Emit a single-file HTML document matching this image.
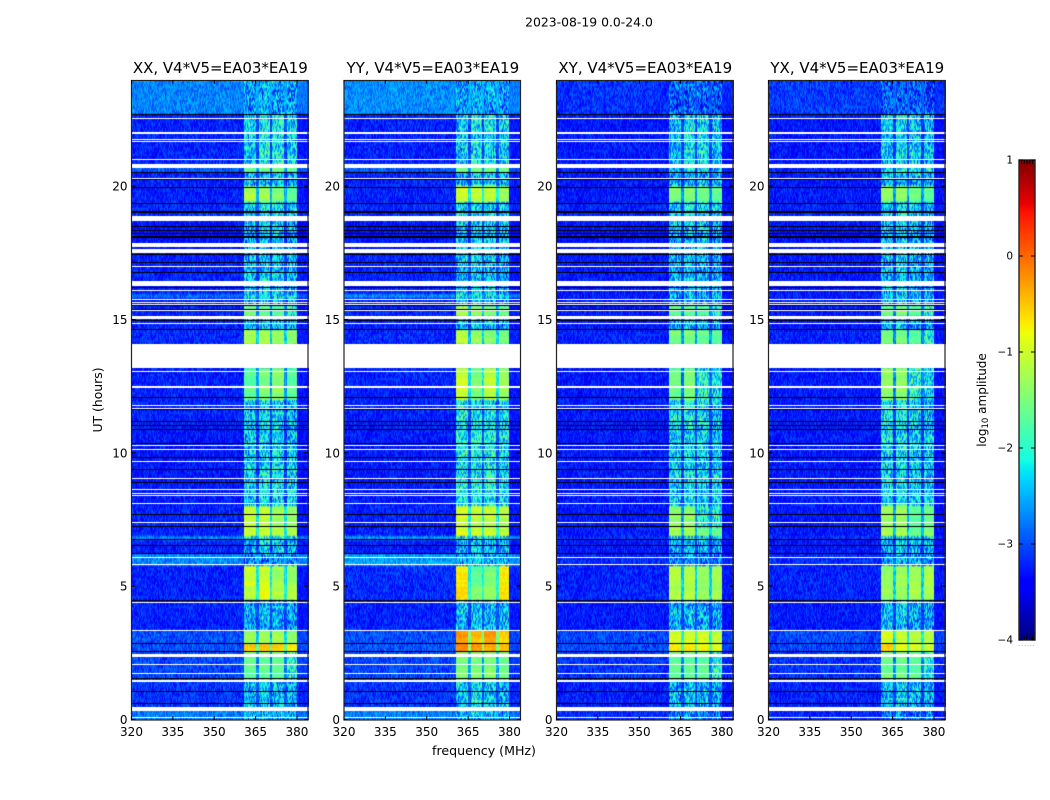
<!DOCTYPE html>
<html>
<head>
<meta charset="utf-8">
<title>2023-08-19 0.0-24.0</title>
<style>
html,body{margin:0;padding:0;background:#fff;}
#stage{position:relative;width:1050px;height:800px;overflow:hidden;background:#fff;font-family:"DejaVu Sans","Liberation Sans",sans-serif;}
canvas{position:absolute;display:block;}
svg{position:absolute;left:0;top:0;}
text{font-family:"DejaVu Sans","Liberation Sans",sans-serif;fill:#000;}
</style>
</head>
<body>
<div id="stage">
<svg id="overlay" width="1050" height="800">
  <text x="589" y="26.5" text-anchor="middle" font-size="12.4">2023-08-19 0.0-24.0</text>
  <text x="484" y="755" text-anchor="middle" font-size="12.6">frequency (MHz)</text>
  <text transform="translate(102,400) rotate(-90)" text-anchor="middle" font-size="12.4">UT (hours)</text>
  <text transform="translate(986,400) rotate(-90)" text-anchor="middle" font-size="12">log<tspan font-size="8.5" dy="2">10</tspan><tspan dy="-2"> amplitude</tspan></text>
</svg>
</div>
<script>
// ---- axis domains and tick labels ----
const freqTicks = [320, 335, 350, 365, 380];
const utTicks = [0, 5, 10, 15, 20];
const cbarTicks = [1, 0, -1, -2, -3, -4];
const panelTitles = ['XX, V4*V5=EA03*EA19', 'YY, V4*V5=EA03*EA19', 'XY, V4*V5=EA03*EA19', 'YX, V4*V5=EA03*EA19'];

// ---- UT (hours) segment boundaries, top to bottom ----
const segmentEdges = [24,22.72,20.85,20.55,20,19.4,18.7,17.45,15.95,15.85,15.5,15.15,14.6,14.1,13.2,12,10.9,8.05,7.2,6.9,6.78,6.2,5.74,5.05,4.47,3.35,2.88,2.55,1.5,0.34,0];

// ---- RFI frequency bands (MHz) ----
const bandEdges = [[360.4,364.8],[365.8,369.8],[370.7,374.8],[376,379.7]];

// ---- log10 amplitude per segment: XX ----
const xxBackground = [-2.75,-3.25,-2.95,-3.25,-3.25,-3.2,-3.35,-3.25,-2.9,-3.25,-3.25,-3.25,-3.2,-3.25,-3.25,-3.25,-3.3,-3.25,-3.25,-2.75,-3.25,-2.7,-3.25,-3.25,-3.25,-3.0,-3.0,-3.05,-3.15,-2.8];
const xxBand1 = [-2.4,-2.1,-1.6,-2.2,-1.2,-2.1,-2.3,-2.2,-2.0,-2.2,-1.5,-2.3,-1.2,-2,-1.7,-2.1,-2.1,-1.1,-1.0,-1.9,-2.3,-2.4,-1.0,-1.15,-2.3,-1.35,-0.55,-1.7,-2.2,-2.3];
const xxBand2 = [-2.3,-1.9,-1.5,-2.1,-1.3,-1.9,-2.1,-2.1,-2,-2.1,-1.6,-2.1,-1.2,-2,-1.5,-2.0,-2.0,-1.1,-1.0,-1.9,-2.1,-2.3,-1.0,-0.85,-2.2,-1.3,-0.5,-1.7,-2.1,-2.2];
const xxBand3 = [-2.4,-1.9,-1.5,-2.1,-1.5,-2.0,-2.1,-2.2,-2,-2.2,-1.7,-2.2,-1.3,-2,-1.4,-2.1,-2.0,-1.35,-1.1,-2,-2.2,-2.4,-1.3,-1.2,-2.3,-1.25,-0.6,-1.7,-2.2,-2.3];
const xxBand4 = [-2.4,-2.1,-1.6,-2.3,-1.7,-2.1,-2.3,-2.3,-2.1,-2.3,-1.8,-2.3,-1.4,-2,-1.7,-2.2,-2.1,-1.4,-1.15,-2,-2.3,-2.4,-1.35,-1.15,-2.3,-1.4,-0.75,-1.8,-2.3,-2.4];

// ---- YY ----
const yyBackground = [-2.7,-3.25,-2.95,-3.25,-3.25,-3.2,-3.35,-3.25,-2.75,-3.25,-3.25,-3.25,-3.2,-3.25,-3.25,-3.25,-3.3,-3.25,-3.25,-2.65,-3.25,-2.6,-3.2,-3.2,-3.25,-3.0,-3.0,-3.05,-3.15,-2.75];
const yyBand1 = [-2.4,-2.1,-1.6,-2.2,-1.0,-2.0,-2.2,-2.2,-2,-2.2,-1.2,-2.2,-1.1,-2,-1.0,-1.9,-1.9,-1.0,-0.9,-1.9,-2.2,-2.3,-0.7,-0.55,-2.2,-0.3,-0.2,-1.5,-2.1,-2.2];
const yyBand2 = [-2.3,-1.9,-1.6,-2.1,-1.1,-1.9,-2.1,-2.1,-2,-2.1,-1.4,-2.1,-1.3,-2,-1.5,-1.9,-1.9,-1.1,-1.0,-1.9,-2.1,-2.2,-1.7,-1.4,-2.1,-0.5,-0.3,-1.5,-2.0,-2.1];
const yyBand3 = [-2.4,-2.0,-1.6,-2.1,-1.1,-2.0,-2.1,-2.2,-2,-2.2,-1.5,-2.2,-1.4,-2,-1.1,-1.9,-1.9,-1.1,-1.0,-1.9,-2.2,-2.3,-1.5,-1.3,-2.2,-0.3,-0.4,-1.5,-2.1,-2.2];
const yyBand4 = [-2.4,-2.1,-1.6,-2.2,-1.3,-2.0,-2.2,-2.3,-2.1,-2.3,-1.6,-2.3,-1.5,-2,-1.3,-2.0,-2.0,-1.2,-1.1,-2,-2.2,-2.3,-0.7,-0.6,-2.2,-0.6,-0.5,-1.6,-2.2,-2.3];

// ---- XY ----
const xyBackground = [-3.15,-3.3,-3.25,-3.3,-3.3,-3.25,-3.35,-3.3,-3.25,-3.3,-3.3,-3.3,-3.25,-3.3,-3.3,-3.3,-3.3,-3.3,-3.3,-3.2,-3.3,-3.2,-3.25,-3.25,-3.3,-3.05,-3.05,-3.15,-3.25,-3.2];
const xyBand1 = [-2.7,-2.2,-2.0,-2.3,-1.5,-2.1,-2.3,-2.3,-2.2,-2.3,-1.6,-2.3,-1.5,-2,-1.6,-2.0,-2.1,-1.4,-1.2,-2,-2.3,-2.4,-1.2,-1.2,-2.3,-1.0,-0.7,-1.7,-2.2,-2.5];
const xyBand2 = [-2.7,-2.0,-1.9,-2.2,-1.5,-2.0,-2.2,-2.2,-2.1,-2.2,-1.6,-2.2,-1.5,-2,-1.5,-1.9,-2.0,-1.4,-1.2,-2,-2.2,-2.3,-1.2,-1.2,-2.2,-1.0,-0.7,-1.7,-2.1,-2.4];
const xyBand3 = [-2.7,-2.0,-1.9,-2.2,-1.6,-2.1,-2.2,-2.3,-2.2,-2.3,-1.7,-2.3,-1.6,-2,-1.8,-2.0,-2.1,-1.8,-1.5,-2.1,-2.3,-2.4,-1.4,-1.4,-2.3,-1.0,-0.8,-1.7,-2.2,-2.5];
const xyBand4 = [-2.8,-2.2,-2.1,-2.3,-1.7,-2.2,-2.3,-2.3,-2.2,-2.3,-1.8,-2.4,-1.7,-2,-2.0,-2.2,-2.1,-1.8,-1.6,-2.1,-2.3,-2.5,-1.3,-1.3,-2.3,-1.1,-0.9,-1.8,-2.3,-2.5];

// ---- YX ----
const yxBackground = [-3.1,-3.3,-3.25,-3.3,-3.3,-3.25,-3.35,-3.3,-3.25,-3.3,-3.3,-3.3,-3.25,-3.3,-3.3,-3.3,-3.3,-3.3,-3.3,-3.2,-3.3,-3.2,-3.25,-3.25,-3.3,-3.05,-3.05,-3.15,-3.25,-3.2];
const yxBand1 = [-2.7,-2.1,-2.0,-2.2,-1.4,-2.1,-2.2,-2.2,-2.2,-2.2,-1.6,-2.2,-1.5,-2,-1.4,-1.9,-2.0,-1.3,-1.2,-2,-2.2,-2.4,-1.4,-1.3,-2.2,-1.0,-0.5,-1.6,-2.2,-2.5];
const yxBand2 = [-2.7,-2.0,-1.9,-2.2,-1.4,-2.0,-2.1,-2.1,-2.1,-2.1,-1.5,-2.1,-1.5,-2,-1.4,-1.9,-2.0,-1.3,-1.2,-2,-2.1,-2.3,-1.3,-1.3,-2.1,-1.1,-0.8,-1.6,-2.1,-2.4];
const yxBand3 = [-2.7,-2.1,-2.0,-2.3,-1.6,-2.1,-2.3,-2.3,-2.2,-2.3,-1.7,-2.3,-1.7,-2,-1.8,-2.1,-2.1,-1.7,-1.6,-2.1,-2.3,-2.4,-1.3,-1.2,-2.3,-1.2,-0.9,-1.7,-2.2,-2.5];
const yxBand4 = [-2.8,-2.2,-2.1,-2.3,-1.7,-2.2,-2.3,-2.3,-2.2,-2.3,-1.8,-2.4,-1.8,-2,-2.0,-2.2,-2.1,-1.6,-1.4,-2.1,-2.3,-2.5,-1.2,-1.2,-2.3,-1.2,-1.0,-1.8,-2.3,-2.5];

// ---- flagged UT ranges (hours): white = no data, black = zeroed ----
const whiteFlags = [[22.54,22.58],[21.97,22.05],[21.75,21.79],[21.68,21.71],[21.0,21.04],[20.68,20.85],[20.29,20.33],[18.7,18.9],[17.75,17.9],[17.5,17.65],[16.99,17.03],[16.25,16.46],[16.1,16.14],[15.75,15.79],[15.65,15.69],[15.56,15.6],[15.34,15.38],[15.03,15.15],[14.85,14.89],[13.2,14.1],[13.05,13.09],[12.5,12.54],[12.46,12.49],[11.77,11.8],[11.67,11.7],[10.27,10.3],[10.15,10.18],[9.66,9.7],[9.05,9.08],[8.65,8.68],[8.48,8.5],[8.42,8.45],[8.1,8.13],[7.39,7.42],[6.08,6.11],[5.83,5.86],[4.38,4.42],[3.35,3.38],[2.36,2.48],[2.08,2.11],[1.73,1.76],[1.4,1.5],[0.35,0.49],[0.08,0.11]];
const blackFlags = [[22.7,22.74],[20.52,20.56],[20.26,20.29],[19.96,20.0],[19.36,19.4],[19.03,19.1],[18.5,18.54],[18.33,18.37],[18.24,18.28],[18.13,18.16],[18.08,18.11],[17.45,17.49],[17.12,17.16],[16.76,16.8],[16.18,16.22],[15.53,15.56],[15.4,15.43],[14.97,15.0],[14.63,14.67],[12.08,12.12],[11.63,11.67],[11.17,11.2],[11.02,11.06],[10.86,10.9],[10.36,10.4],[9.8,9.85],[9.36,9.4],[8.87,8.92],[7.7,7.74],[7.25,7.29],[6.76,6.8],[6.5,6.55],[6.2,6.25],[4.46,4.49],[2.85,2.88],[2.54,2.58],[1.53,1.57],[1.06,1.09],[0.56,0.62]];

// ---- fine-grain speckle table (fixed) ----
const speckle = [3,-7,1,9,-4,-1,6,-9,2,5,-3,8,-6,0,4,-8,7,-2,-5,9,1,-7,3,-3,6,-1,8,-9,2,-4,5,0,-6,7,-2,4,-8,1,9,-5,3,-1,6,-7,2,8,-3,-9,5,0,-4,7,1,-6,4,-2,9,-8,3,6,-5,-1,2,8,-7,5,-3,0,7,-9,4,1,-4,6,-2,9,-6,3,-8,2,5,-1,-7,8,0,-3,4,-5,7,1,-9,6,-2,3,-4,8,-6];

const panelLevels = [
  [xxBackground, xxBand1, xxBand2, xxBand3, xxBand4],
  [yyBackground, yyBand1, yyBand2, yyBand3, yyBand4],
  [xyBackground, xyBand1, xyBand2, xyBand3, xyBand4],
  [yxBackground, yxBand1, yxBand2, yxBand3, yxBand4]
];

// ---- layout ----
const panelLeft = [131.5, 344, 556.5, 768.5];
const panelW = 176.5, panelTop = 80, panelH = 640;
const freqMin = 320, freqMax = 384, utMin = 0, utMax = 24;
const nCols = 177, nRows = 320;
const cbar = {x: 1019, y: 160, w: 16, h: 480, min: -4, max: 1};

const xScale = f => (f - freqMin) / (freqMax - freqMin) * panelW;
const yScale = u => (1 - (u - utMin) / (utMax - utMin)) * panelH;
const cbarY = v => cbar.y + (cbar.max - v) / (cbar.max - cbar.min) * cbar.h;

function clamp01(v){ return Math.max(0, Math.min(1, v)); }
function jet(t){
  const r = clamp01(Math.min((t - 0.35) / 0.31, (1.0 - t) / 0.22 + 0.5 > 1 ? 1 : (1.0 - t) / 0.22 + 0.5));
  const g = clamp01(Math.min((t - 0.125) / 0.25, (0.91 - t) / 0.27));
  const b = clamp01(Math.min(0.5 + t / 0.22, (0.65 - t) / 0.31));
  return [Math.round(r * 255), Math.round(g * 255), Math.round(b * 255)];
}

function segmentIndex(ut){
  for (let i = 0; i < segmentEdges.length - 1; i++) {
    if (ut <= segmentEdges[i] && ut > segmentEdges[i + 1]) return i;
  }
  return segmentEdges.length - 2;
}

function cellValue(levels, ut, mhz, r, c){
  const s = segmentIndex(ut);
  const bg = levels[0][s];
  const g = speckle[(r * r * 3 + c * c * 5 + r * c * 7 + r + c * 2) % speckle.length] / 10;
  const rowShade = speckle[(r * 11) % speckle.length] / 10;
  if (mhz < bandEdges[0][0]) return bg + g * 0.36;
  if (mhz > bandEdges[3][1]) return bg - 0.05 + g * 0.25;
  for (let b = 0; b < bandEdges.length; b++) {
    if (mhz >= bandEdges[b][0] && mhz <= bandEdges[b][1]) {
      const lv = levels[b + 1][s];
      if (lv < -1.7) return lv - 0.3 + g * 0.8 + rowShade * 0.1;
      return lv + g * 0.14 + rowShade * 0.12;
    }
  }
  const mean = (levels[1][s] + levels[2][s] + levels[3][s] + levels[4][s]) / 4;
  return Math.max(bg + 0.2, mean - 1.05) + g * 0.3;
}

const stage = document.getElementById('stage');
const overlay = document.getElementById('overlay');
const NS = 'http://www.w3.org/2000/svg';

function line(x1, y1, x2, y2, color, width){
  const el = document.createElementNS(NS, 'line');
  el.setAttribute('x1', x1);
  el.setAttribute('y1', y1);
  el.setAttribute('x2', x2);
  el.setAttribute('y2', y2);
  el.setAttribute('stroke', color || '#000');
  el.setAttribute('stroke-width', width || 1);
  overlay.appendChild(el);
  return el;
}
function label(x, y, str, anchor, size){
  const el = document.createElementNS(NS, 'text');
  el.setAttribute('x', x);
  el.setAttribute('y', y);
  el.setAttribute('text-anchor', anchor);
  el.setAttribute('font-size', size);
  el.textContent = str;
  overlay.appendChild(el);
  return el;
}
function flagBand(ctx, width, fl){
  const top = yScale(fl[1]);
  const bottom = yScale(fl[0]);
  ctx.fillRect(0, Math.round(top), width, Math.max(1, Math.floor(bottom - top + 0.3)));
}

panelLevels.forEach(function(levels, p){
  const left = panelLeft[p];
  const cv = document.createElement('canvas');
  
  
  cv.width = Math.round(panelW);
  cv.height = panelH;
  cv.style.left = Math.round(left) + 'px';
  cv.style.top = panelTop + 'px';
  stage.insertBefore(cv, overlay);

  const off = document.createElement('canvas');
  off.width = nCols;
  off.height = nRows;
  const octx = off.getContext('2d');
  const img = octx.createImageData(nCols, nRows);
  for (let r = 0; r < nRows; r++) {
    const ut = utMax - (r + 0.5) / nRows * (utMax - utMin);
    for (let c = 0; c < nCols; c++) {
      const mhz = freqMin + (c + 0.5) / nCols * (freqMax - freqMin);
      const v = cellValue(levels, ut, mhz, r + p * 17, c + p * 5);
      const rgb = jet((v - cbar.min) / (cbar.max - cbar.min));
      const i = (r * nCols + c) * 4;
      img.data[i] = rgb[0];
      img.data[i + 1] = rgb[1];
      img.data[i + 2] = rgb[2];
      img.data[i + 3] = 255;
    }
  }
  octx.putImageData(img, 0, 0);
  const ctx = cv.getContext('2d');
  ctx.imageSmoothingEnabled = true;
  ctx.drawImage(off, 0, 0, cv.width, cv.height);

  ctx.fillStyle = '#fff';
  whiteFlags.forEach(function(fl){ flagBand(ctx, cv.width, fl); });
  ctx.fillStyle = '#000';
  blackFlags.forEach(function(fl){ flagBand(ctx, cv.width, fl); });

  // frame
  const frame = document.createElementNS(NS, 'rect');
  
  
  frame.setAttribute('x', left);
  frame.setAttribute('y', panelTop + 0.5);
  frame.setAttribute('width', panelW);
  frame.setAttribute('height', panelH - 0.5);
  frame.setAttribute('fill', 'none');
  frame.setAttribute('stroke', '#222');
  frame.setAttribute('stroke-width', '1.2');
  overlay.appendChild(frame);

  // title
  const t = label(left + 88.8, 73, panelTitles[p], 'middle', 15);
  
  

  // x ticks
  freqTicks.forEach(function(f){
    const x = left + xScale(f);
    const bt = line(x, panelTop + panelH, x, panelTop + panelH - 4);
    
    
    const tt = line(x, panelTop, x, panelTop + 4);
    
    
    const tl = label(x, panelTop + panelH + 16, String(f), 'middle', 12);
    
    
  });

  // y ticks
  utTicks.forEach(function(u){
    const y = panelTop + yScale(u) - 0.5;
    const lt = line(left, y, left + 4, y);
    
    
    const rt = line(left + panelW, y, left + panelW - 4, y);
    
    
    const tl = label(left - 4, y + 4.5, String(u), 'end', 12);
    
    
  });
});

// colorbar
const cb = document.createElement('canvas');


cb.width = cbar.w;
cb.height = cbar.h;
cb.style.left = cbar.x + 'px';
cb.style.top = cbar.y + 'px';
stage.insertBefore(cb, overlay);
const cbCtx = cb.getContext('2d');
for (let i = 0; i < cbar.h; i++) {
  const rgb = jet(1 - (i + 0.5) / cbar.h);
  cbCtx.fillStyle = 'rgb(' + rgb.join(',') + ')';
  cbCtx.fillRect(0, i, cbar.w, 1);
}
const cbFrame = document.createElementNS(NS, 'rect');


cbFrame.setAttribute('x', cbar.x);
cbFrame.setAttribute('y', cbar.y);
cbFrame.setAttribute('width', cbar.w);
cbFrame.setAttribute('height', cbar.h);
cbFrame.setAttribute('fill', 'none');
cbFrame.setAttribute('stroke', '#222');
cbFrame.setAttribute('stroke-width', '1.4');
overlay.appendChild(cbFrame);

cbarTicks.forEach(function(v){
  const y = cbarY(v);
  const lt = line(cbar.x, y, cbar.x + 4, y);
  
  
  const rt = line(cbar.x + cbar.w, y, cbar.x + cbar.w - 4, y);
  
  
  const tl = label(cbar.x - 6, y + 3.5, (v < 0 ? '\u2212' + Math.abs(v) : String(v)), 'end', 10.5);
  
  
});

[0, 1, 2, 3, 4].forEach(function(k){
  const x = cbar.x + 2.5 + k * 2.75;
  const a = line(x, cbar.y, x, cbar.y + 4);
  
  
  const b = line(x, cbar.y + cbar.h, x, cbar.y + cbar.h - 4);
  
  
});

const dots = label(cbar.x + cbar.w / 2, cbar.y + cbar.h + 6, '......', 'middle', 6);


dots.setAttribute('letter-spacing', '1');
dots.setAttribute('style', 'fill:#777');
</script>
</body>
</html>
